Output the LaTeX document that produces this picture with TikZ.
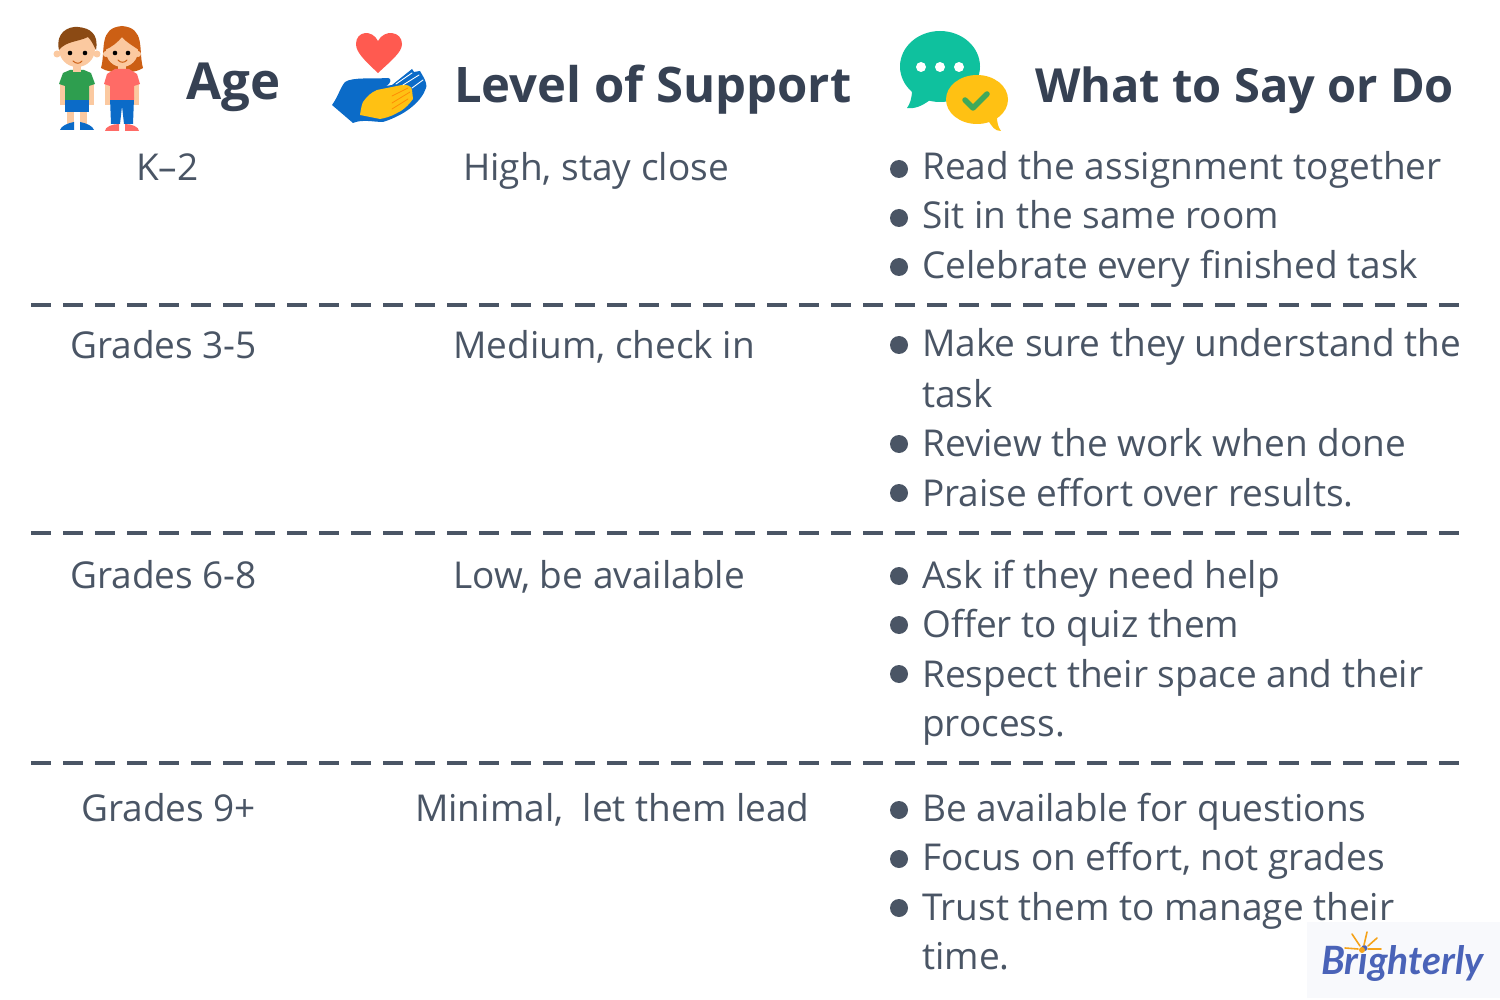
\documentclass[tikz,border=0pt]{standalone}
\usepackage{fontspec}
\setmainfont{Open Sans}
\newfontfamily\logofont{Lato}
\definecolor{bodytxt}{HTML}{4A5565}
\definecolor{headtxt}{HTML}{364153}
\definecolor{rulec}{HTML}{4A5565}
\definecolor{bluec}{HTML}{0B6BC8}
\definecolor{yellowc}{HTML}{FFC113}
\definecolor{redc}{HTML}{FF5A50}
\definecolor{tealc}{HTML}{0FC19E}
\definecolor{greenc}{HTML}{3FA95A}
\definecolor{skinc}{HTML}{FBC9A0}
\definecolor{shirtg}{HTML}{2E9E4F}
\definecolor{shirtr}{HTML}{FF6B66}
\definecolor{hairb}{HTML}{8B4A14}
\definecolor{hairr}{HTML}{CC5F14}
\definecolor{logoc}{HTML}{4A63B8}
\definecolor{sunc}{HTML}{F5A31A}
\definecolor{logobg}{HTML}{F8F9FC}
\tikzset{
  cell/.style={font=\fontsize{37}{37}\selectfont,text=bodytxt,anchor=base west,inner sep=0pt},
  head/.style={font=\fontsize{47}{47}\selectfont\bfseries,text=headtxt,anchor=base west,inner sep=0pt},
  headbig/.style={head,font=\fontsize{49}{49}\selectfont\bfseries},
  dot/.style={circle,fill=bodytxt,minimum size=18pt,inner sep=0pt},
  rulel/.style={draw=rulec,line width=4pt,dash pattern=on 20pt off 12pt},
}
\begin{document}
\begin{tikzpicture}[x=1pt,y=-1pt]
\useasboundingbox (0,0) rectangle (1500,1000);
\fill[white] (0,0) rectangle (1500,1000);
% headers
\node[headbig,font=\fontsize{51}{51}\selectfont\bfseries] (hage) at (186,100) {Age};
\node[headbig] (hsup) at (454,103) {Level of Support};
\node[head] (hsay) at (1035,103) {What to Say or Do};
% boy
\fill[skinc] (60,82) rectangle (65,105);\fill[skinc] (89,82) rectangle (94,105);
\fill[skinc] (67,110) rectangle (74,124);\fill[skinc] (80,110) rectangle (87,124);
\fill[bluec] (65,98) rectangle (89,112);
\fill[shirtg] (59,84) -- (63,73) -- (70,70) -- (84,70) -- (91,73) -- (95,84) -- (89,86) -- (89,100) -- (65,100) -- (65,86) -- cycle;
\fill[skinc] (73,62) rectangle (81,72);
\fill[bluec] (60,130) .. controls (61,126) and (68,123) .. (74,122) -- (74,130) -- cycle;
\fill[bluec] (80,122) .. controls (86,123) and (93,126) .. (94,130) -- (80,130) -- cycle;
\fill[skinc] (57,54) circle (3.5);\fill[skinc] (97,54) circle (3.5);
\fill[skinc] (77,49) ellipse (18 and 18);
\fill[hairb] (59,50) .. controls (55,33) and (68,26) .. (78,27) .. controls (90,28) and (99,34) .. (96,50) .. controls (93,44) and (91,40) .. (88,37) .. controls (78,42) and (66,41) .. (59,50) -- cycle;
\fill[black] (70,53) circle (2.3);\fill[black] (85,53) circle (2.3);
\draw[hairr,line width=1pt,line cap=round] (73,61) .. controls (76,64) and (80,64) .. (82,61);
% girl
\fill[hairr] (101,68) .. controls (106,50) and (98,28) .. (122,26) .. controls (146,28) and (138,50) .. (143,68) .. controls (135,74) and (110,74) .. (101,68) -- cycle;
\fill[skinc] (105,82) rectangle (110,105);\fill[skinc] (134,82) rectangle (139,105);
\fill[skinc] (118,62) rectangle (126,72);
\fill[skinc] (106,54) circle (3);\fill[skinc] (138,54) circle (3);
\fill[skinc] (122,51) ellipse (16 and 16);
\fill[hairr] (105,50) .. controls (106,38) and (114,32) .. (122,32) .. controls (131,32) and (138,38) .. (139,50) .. controls (133,46) and (126,42) .. (122,37) .. controls (118,42) and (112,47) .. (105,50) -- cycle;
\fill[black] (115,53) circle (2.3);\fill[black] (128,53) circle (2.3);
\draw[hairr,line width=1pt,line cap=round] (118,60) .. controls (120,63) and (125,63) .. (127,60);
\fill[bluec] (110,98) -- (134,98) -- (133,124) -- (124,124) -- (122,106) -- (120,124) -- (111,124) -- cycle;
\fill[shirtr] (104,84) -- (107,74) -- (115,69) -- (129,69) -- (137,74) -- (140,84) -- (134,86) -- (134,100) -- (110,100) -- (110,86) -- cycle;
\fill[shirtr] (105,131) .. controls (105,127) and (112,124) .. (119,124) -- (119,131) -- cycle;
\fill[shirtr] (125,124) .. controls (132,124) and (139,127) .. (139,131) -- (125,131) -- cycle;
% hands icon
\fill[redc] (378,73) .. controls (364,60) and (356,52) .. (356,44) .. controls (356,31) and (372,29) .. (378,41) .. controls (384,29) and (402,31) .. (402,44) .. controls (402,52) and (392,60) .. (378,73) -- cycle;
\fill[bluec] (332,105) .. controls (338,97) and (340,88) .. (345,82) .. controls (352,77) and (372,79) .. (388,78) .. controls (392,78) and (391,84) .. (386,86) -- (392,85) -- (412,69) -- (414,72) -- (420,71) -- (424,78) .. controls (426,82) and (427,86) .. (426,88) .. controls (422,100) and (408,114) .. (383,122) .. controls (374,122) and (362,119) .. (353,123) -- cycle;
\fill[yellowc] (360,115) .. controls (361,108) and (362,104) .. (363,102) .. controls (367,96) and (372,92) .. (377,90) -- (402,85) .. controls (406,84) and (412,86) .. (412,90) -- (413,99) .. controls (408,106) and (402,111) .. (397,113) .. controls (390,117) and (385,118) .. (380,119) -- cycle;
\draw[white,line width=.9pt,line cap=round] (396,84) -- (412,73) (403,85) -- (419,75) (412,88) -- (423,80);
\draw[orange!80!yellowc,line width=.8pt,line cap=round] (392,96) -- (408,88) (392,103) -- (410,92) (392,109) -- (408,99);
% chat icon
\fill[tealc] (940,66.5) ellipse (40 and 35.5);
\fill[tealc] (912,90) .. controls (912,98) and (910,104) .. (907,108) .. controls (915,109) and (922,106) .. (930,100) -- cycle;
\fill[white] (921,67) circle (5);\fill[white] (940,67) circle (5);\fill[white] (959,67) circle (5);
\fill[yellowc] (977,99.5) ellipse (31 and 24.5);
\fill[yellowc] (988,120) .. controls (992,127) and (995,131) .. (1001,131) .. controls (998,127) and (997,122) .. (997,117) -- cycle;
\draw[greenc,line width=5.5pt,line cap=round,line join=round] (965,100) -- (973,108) -- (987,94);
% rows
\node[cell] (a1) at (136,181) {K–2};
\node[cell] (s1) at (463,181) {High, stay close};
\node[dot] (d11) at (899,169) {};\node[cell] (t11) at (922,180) {Read the assignment together};
\node[dot] (d12) at (899,218) {};\node[cell] (t12) at (922,229) {Sit in the same room};
\node[dot] (d13) at (899,267) {};\node[cell] (t13) at (922,279) {Celebrate every finished task};
\coordinate (r1a) at (31,305);\coordinate (r1b) at (1460,305);
\draw[rulel] (r1a) -- (r1b);
\node[cell] (a2) at (70,359) {Grades 3-5};
\node[cell] (s2) at (453,359) {Medium, check in};
\node[dot] (d21) at (899,345) {};\node[cell] (t21) at (922,357) {Make sure they understand the};
\node[cell] (t21b) at (922,407) {task};
\node[dot] (d22) at (899,444) {};\node[cell] (t22) at (922,456) {Review the work when done};
\node[dot] (d23) at (899,493) {};\node[cell] (t23) at (922,506) {Praise effort over results.};
\coordinate (r2a) at (31,533);\coordinate (r2b) at (1460,533);
\draw[rulel] (r2a) -- (r2b);
\node[cell] (a3) at (70,588) {Grades 6-8};
\node[cell] (s3) at (453,588) {Low, be available};
\node[dot] (d31) at (899,576) {};\node[cell] (t31) at (922,588) {Ask if they need help};
\node[dot] (d32) at (899,625) {};\node[cell] (t32) at (922,637) {Offer to quiz them};
\node[dot] (d33) at (899,674) {};\node[cell] (t33) at (922,687) {Respect their space and their};
\node[cell] (t33b) at (922,736) {process.};
\coordinate (r3a) at (31,763);\coordinate (r3b) at (1460,763);
\draw[rulel] (r3a) -- (r3b);
\node[cell] (a4) at (81,821) {Grades 9+};
\node[cell] (s4) at (415,821) {Minimal,\ \ let them lead};
\node[dot] (d41) at (899,810) {};\node[cell] (t41) at (922,821) {Be available for questions};
\node[dot] (d42) at (899,859) {};\node[cell] (t42) at (922,870) {Focus on effort, not grades};
\node[dot] (d43) at (899,908) {};\node[cell] (t43) at (922,920) {Trust them to manage their};
\node[cell] (t43b) at (922,969) {time.};
% logo
\fill[logobg] (1307,922) rectangle (1500,998);
\node[font=\logofont\fontsize{39}{39}\selectfont\bfseries\itshape,text=logoc,anchor=base west,inner sep=0pt] (logo) at (1321,974) {Brighterly};
\fill[sunc] (1362,950) circle (3);
\draw[sunc,line width=1.6pt,line cap=round] (1345,948) -- (1358,949) (1352,934) -- (1360,946) (1367,932) -- (1364,945) (1377,938) -- (1368,946) (1381,949) -- (1368,949);
\end{tikzpicture}
\end{document}
